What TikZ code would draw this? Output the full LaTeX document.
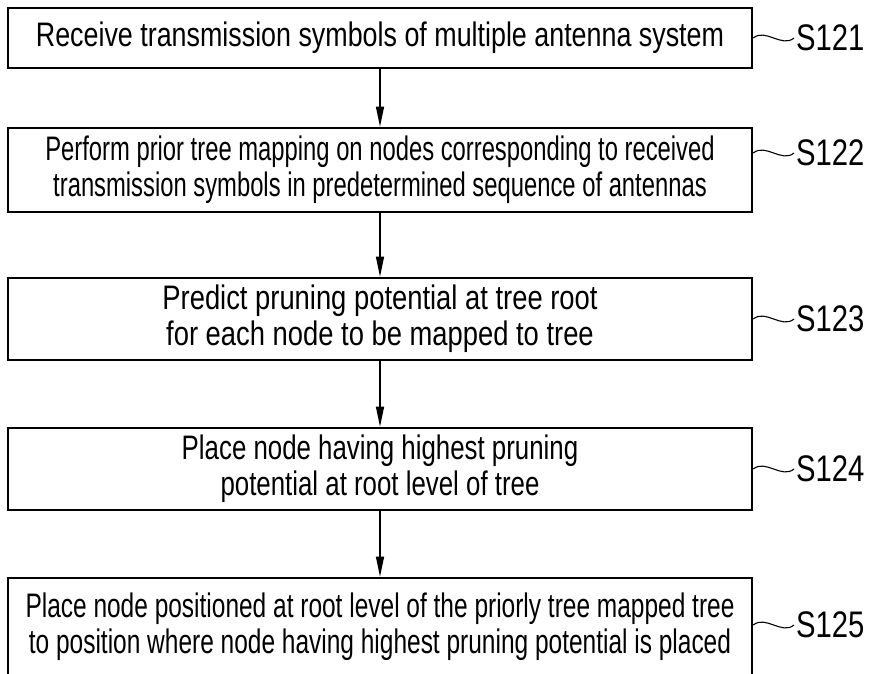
\documentclass[tikz,border=0pt]{standalone}
\usepackage{fontspec}
\setmainfont{Liberation Sans}[FakeStretch=0.79]
\usetikzlibrary{arrows.meta}
\begin{document}
\begin{tikzpicture}[x=1pt,y=1pt,
  stepbox/.style={draw, line width=2.6pt, minimum width=744pt, align=center,
    font=\fontsize{34}{36}\selectfont\addfontfeature{FakeStretch=#1}, inner sep=0pt},
  stepbox/.default=0.79,
  flow/.style={-{Triangle[length=20pt,width=8pt]}, line width=1.2pt},
  steplabel/.style={font=\fontsize{37}{38}\selectfont, anchor=west, inner sep=0pt},
  tilde/.style={line width=1.1pt}]
\useasboundingbox (0,0) rectangle (874,-673);
\clip (0,0) rectangle (874,-673);

% process steps
\node[stepbox=0.79, minimum height=60pt] (b1) at (380,-38)
  {Receive transmission symbols of multiple antenna system};
\node[stepbox=0.70, minimum height=84pt] (b2) at (380,-170)
  {Perform prior tree mapping on nodes corresponding to received\\
   transmission symbols in predetermined sequence of antennas};
\node[stepbox=0.805, minimum height=82pt] (b3) at (380,-319)
  {Predict pruning potential at tree root\\
   for each node to be mapped to tree};
\node[stepbox=0.76, minimum height=82pt] (b4) at (380,-469)
  {Place node having highest pruning\\
   potential at root level of tree};
\node[stepbox=0.72, minimum height=98pt] (b5) at (380,-627)
  {Place node positioned at root level of the priorly tree mapped tree\\
   to position where node having highest pruning potential is placed};

% flow arrows
\draw[flow] (b1) -- (b2);
\draw[flow] (b2) -- (b3);
\draw[flow] (b3) -- (b4);
\draw[flow] (b4) -- (b5);

% step labels
\node[steplabel] (l1) at (796,-38) {S121};
\node[steplabel] (l2) at (796,-153) {S122};
\node[steplabel] (l3) at (796,-319) {S123};
\node[steplabel] (l4) at (796,-469) {S124};
\node[steplabel] (l5) at (796,-625) {S125};

\foreach \b/\l in {b1/l1,b2/l2,b3/l3,b4/l4,b5/l5}
  \draw[tilde] (\b.east |- \l.west) to[out=40,in=220] ([xshift=-2pt]\l.west);
\end{tikzpicture}
\end{document}
